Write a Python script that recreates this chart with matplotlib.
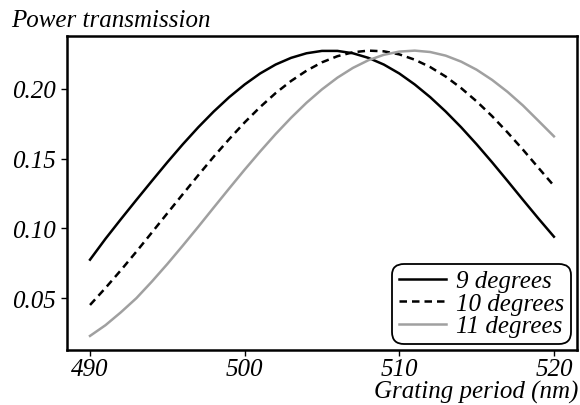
import matplotlib
matplotlib.use("Agg")
import matplotlib.pyplot as plt

# Power transmission vs grating period
period = [490, 491, 492, 493, 494, 495, 496, 497, 498, 499, 500,
          501, 502, 503, 504, 505, 506, 507, 508, 509, 510,
          511, 512, 513, 514, 515, 516, 517, 518, 519, 520]

deg9 = [0.0775, 0.0925, 0.1066, 0.1204, 0.1340, 0.1474, 0.1603, 0.1725, 0.1838, 0.1941, 0.2032,
        0.2111, 0.2175, 0.2223, 0.2256, 0.2273, 0.2273, 0.2256, 0.2223, 0.2175, 0.2111,
        0.2032, 0.1941, 0.1838, 0.1725, 0.1603, 0.1474, 0.1340, 0.1204, 0.1070, 0.0940]

deg10 = [0.0450, 0.0572, 0.0700, 0.0833, 0.0970, 0.1108, 0.1245, 0.1381, 0.1514, 0.1640, 0.1760,
         0.1870, 0.1970, 0.2057, 0.2131, 0.2191, 0.2235, 0.2263, 0.2275, 0.2270, 0.2248,
         0.2210, 0.2157, 0.2089, 0.2006, 0.1911, 0.1805, 0.1688, 0.1564, 0.1434, 0.1305]

deg11 = [0.0228, 0.0305, 0.0398, 0.0499, 0.0618, 0.0744, 0.0876, 0.1011, 0.1149, 0.1286, 0.1421,
         0.1551, 0.1676, 0.1793, 0.1901, 0.1997, 0.2081, 0.2151, 0.2206, 0.2245, 0.2268,
         0.2275, 0.2265, 0.2239, 0.2196, 0.2138, 0.2065, 0.1979, 0.1881, 0.1771, 0.1660]

labels = ['9 degrees', '10 degrees', '11 degrees']
xticks = [490, 500, 510, 520]
yticks = [0.05, 0.10, 0.15, 0.20]

plt.rcParams['font.family'] = ['Liberation Serif', 'DejaVu Serif']
plt.rcParams['font.style'] = 'italic'
plt.rcParams['font.size'] = 18

fig = plt.figure(figsize=(5.8, 4.06), dpi=100)
ax = fig.add_axes([0.1155, 0.1355, 0.879, 0.7734])

ax.plot(period, deg9, color='black', lw=1.8, label=labels[0])
ax.plot(period, deg10, color='black', lw=1.8, linestyle=(0, (3.0, 2.0)), label=labels[1])
ax.plot(period, deg11, color='#a0a0a0', lw=1.8, label=labels[2])

ax.set_xlim(488.51, 521.48)
ax.set_ylim(0.0127, 0.2380)
ax.set_xticks(xticks)
ax.set_xticklabels([str(t) for t in xticks])
ax.set_yticks(yticks)
ax.set_yticklabels(['%.2f' % t for t in yticks])

for s in ax.spines.values():
    s.set_linewidth(1.8)
ax.tick_params(direction='out', length=4, width=1.0, pad=4)
ax.tick_params(axis='x', pad=2)

fig.text(0.02, 0.9335, 'Power transmission', ha='left', va='baseline', fontsize=18)
fig.text(0.998, 0.019, 'Grating period (nm)', ha='right', va='baseline', fontsize=18)

leg = ax.legend(loc='lower right', frameon=True, fancybox=True, fontsize=18,
                handlelength=1.9, handletextpad=0.4, labelspacing=0.0,
                borderpad=0.25, borderaxespad=0.25)
leg.get_frame().set_edgecolor('black')
leg.get_frame().set_linewidth(1.3)
leg.get_frame().set_alpha(1)
leg.get_frame().set_boxstyle('round,pad=0,rounding_size=0.45')

fig.savefig('out.png', dpi=100)
